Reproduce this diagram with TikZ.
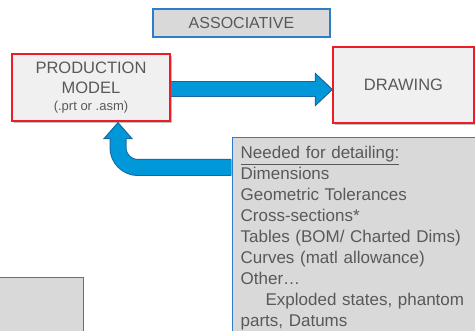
\documentclass[tikz,border=0pt]{standalone}
\usepackage{fontspec}
\setmainfont{Liberation Sans}
\usetikzlibrary{calc,shadows}
\definecolor{txtgray}{RGB}{89,89,89}
\definecolor{boxred}{RGB}{238,28,36}
\definecolor{boxblue}{RGB}{46,125,200}
\definecolor{arrblue}{RGB}{0,152,216}
\definecolor{arredge}{RGB}{22,105,160}
\tikzset{
  redbox/.style={draw=boxred, line width=1.3pt, fill=black!6, text=txtgray, align=center,
    drop shadow={shadow xshift=1.5pt, shadow yshift=-2.5pt, opacity=0.25, fill=black}},
  bluebox/.style={draw=boxblue, line width=1.3pt, fill=black!15, text=txtgray},
  shaftout/.style={draw=arredge, line width=17pt},
  shaftin/.style={draw=arrblue, line width=15pt},
  headtip/.style={fill=arrblue, draw=arredge, line width=1pt, line join=miter}
}

\begin{document}
\begin{tikzpicture}[x=1pt,y=-1pt]
    \path[use as bounding box] (0,0) rectangle (475,331);
    \clip (0,0) rectangle (475,331);
    % boxes
    \node[bluebox, minimum width=177pt, minimum height=28pt, font=\fontsize{16}{18}\selectfont] (assoc) at (241.5,23) {ASSOCIATIVE};
    \node[redbox, minimum width=158pt, minimum height=67pt, font=\fontsize{16.5}{20}\selectfont] (model) at (91,87.5)
        {PRODUCTION\\MODEL\\[-3pt]{\fontsize{13}{15}\selectfont (.prt or .asm)}};
    \node[redbox, minimum width=141pt, minimum height=76pt, font=\fontsize{16.5}{20}\selectfont] (drawing) at (403.5,85) {DRAWING};
    \node[bluebox, anchor=north west, text width=262pt, align=left, inner xsep=8pt, inner ysep=9pt,
        font=\fontsize{17}{20.9}\selectfont] (info) at (232,137)
        {\underline{Needed for detailing:}\\
         Dimensions\\
         Geometric Tolerances\\
         Cross-sections*\\
         Tables (BOM/ Charted Dims)\\
         Curves (matl allowance)\\
         Other…\\
         \hspace*{25pt}Exploded states, phantom\\
         parts, Datums};
    \node[bluebox, anchor=north east, minimum width=110pt, minimum height=80pt] (other) at (84,277) {};
    % arrow model -> drawing
    \coordinate (r0) at ([yshift=-2pt]model.east);
    \coordinate (r1) at ([yshift=-4.5pt]drawing.west);
    \draw[shaftout, line width=16pt] (r0) -- ($(r1)+(-16,0)$);
    \filldraw[headtip] ($(r1)+(-17,-16)$) -- (r1) -- ($(r1)+(-17,16)$) -- cycle;
    \draw[shaftin, line width=14pt] ([xshift=0.8pt]r0) -- ($(r1)+(-15,0)$);
    % arrow info -> model
    \coordinate (u0) at ($(info.north west)+(-0.6,30.5)$);
    \coordinate (u1) at ($(model.south)+(27,1)$);
    \draw[shaftout, rounded corners=20pt] (u0) -| ($(u1)+(0,16)$);
    \filldraw[headtip] ($(u1)+(-14,16)$) -- (u1) -- ($(u1)+(14,16)$) -- cycle;
    \draw[shaftin, rounded corners=20pt] (u0) -| ($(u1)+(0,14.5)$);
\end{tikzpicture}
\end{document}
